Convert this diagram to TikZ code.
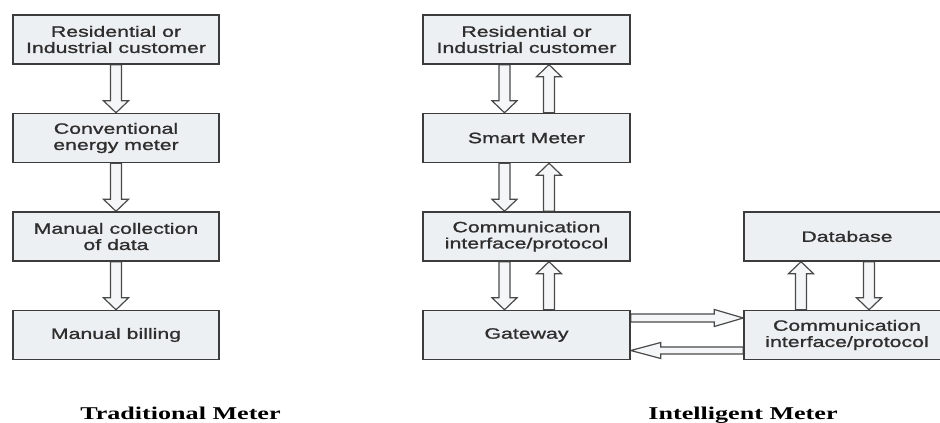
\documentclass[tikz,border=0pt]{standalone}
\usepackage{fontspec}
\newfontfamily\boxfont[FakeStretch=1.42,FakeBold=1.2]{Liberation Sans}
\newfontfamily\capfont[FakeStretch=1.45]{Liberation Serif}
\usetikzlibrary{calc,backgrounds}
\definecolor{boxfill}{HTML}{EDF0F2}
\definecolor{boxline}{HTML}{3C3C3C}
\definecolor{arrfill}{HTML}{F5F6F7}
\definecolor{arrline}{HTML}{4A4A4A}
\definecolor{textgray}{HTML}{2E2E2E}
\newcommand\arrdown[3]{\draw[blk] let \p1=($(#1.south)+(#3,0)$), \p2=(#2.north) in
  (\x1-5.5pt,\y1) -- (\x1-5.5pt,\y2+12pt) -- (\x1-12.5pt,\y2+12pt) -- (\x1,\y2) --
  (\x1+12.5pt,\y2+12pt) -- (\x1+5.5pt,\y2+12pt) -- (\x1+5.5pt,\y1) -- cycle;}
\newcommand\arrup[3]{\draw[blk] let \p1=($(#1.north)+(#3,0)$), \p2=(#2.south) in
  (\x1-5.5pt,\y1) -- (\x1-5.5pt,\y2-12pt) -- (\x1-12.5pt,\y2-12pt) -- (\x1,\y2) --
  (\x1+12.5pt,\y2-12pt) -- (\x1+5.5pt,\y2-12pt) -- (\x1+5.5pt,\y1) -- cycle;}
\newcommand\arrright[3]{\draw[blk] let \p1=($(#1.east)+(0,#3)$), \p2=(#2.west) in
  (\x1,\y1+4pt) -- (\x2-29pt,\y1+4pt) -- (\x2-29pt,\y1+8.5pt) -- (\x2,\y1) --
  (\x2-29pt,\y1-8.5pt) -- (\x2-29pt,\y1-4pt) -- (\x1,\y1-4pt) -- cycle;}
\newcommand\arrleft[3]{\draw[blk] let \p1=($(#1.west)+(0,#3)$), \p2=(#2.east) in
  (\x1,\y1+3.5pt) -- (\x2+30pt,\y1+3.5pt) -- (\x2+30pt,\y1+8pt) -- (\x2,\y1) --
  (\x2+30pt,\y1-8pt) -- (\x2+30pt,\y1-3.5pt) -- (\x1,\y1-3.5pt) -- cycle;}
\begin{document}
\begin{tikzpicture}[x=1pt,y=1pt,
  box/.style={draw=boxline, fill=boxfill, line width=1.4pt, minimum width=206pt,
    minimum height=49pt, inner sep=0pt, align=center, text=textgray,
    font=\boxfont\fontsize{15}{16.2}\selectfont},
  blk/.style={draw=arrline, fill=arrfill, line width=1.2pt, line join=miter},
  caption/.style={anchor=base, text=black, font=\capfont\bfseries\fontsize{18}{20}\selectfont}]
\useasboundingbox (0,0) rectangle (940,423);
\clip (0,0) rectangle (940,423);
% traditional meter
\node[box] (l1) at (116,383.5) {Residential or\\Industrial customer};
\node[box] (l2) at (116,285) {Conventional\\energy meter};
\node[box] (l3) at (116,186.5) {Manual collection\\of data};
\node[box] (l4) at (116,88) {Manual billing};
% intelligent meter
\node[box,minimum width=207pt] (r1) at (526.5,383.5) {Residential or\\Industrial customer};
\node[box,minimum width=207pt] (r2) at (526.5,285) {Smart Meter};
\node[box,minimum width=207pt] (r3) at (526.5,186.5) {Communication\\interface/protocol};
\node[box,minimum width=207pt] (r4) at (526.5,88) {Gateway};
\node[box] (db) at (847,186.5) {Database};
\node[box] (cr) at (847,88) {Communication\\interface/protocol};
% captions
\node[caption] (c1) at (180.5,3) {Traditional Meter};
\node[caption] (c2) at (743,3) {Intelligent Meter};
\begin{scope}[on background layer]
\fill[white] (0,0) rectangle (940,423);
\arrdown{l1}{l2}{0pt}
\arrdown{l2}{l3}{0pt}
\arrdown{l3}{l4}{0pt}
\arrdown{r1}{r2}{-22pt}
\arrup{r2}{r1}{22.5pt}
\arrdown{r2}{r3}{-22pt}
\arrup{r3}{r2}{22.5pt}
\arrdown{r3}{r4}{-22pt}
\arrup{r4}{r3}{22.5pt}
\arrup{cr}{db}{-46pt}
\arrdown{db}{cr}{22pt}
\arrright{r4}{cr}{17pt}
\arrleft{cr}{r4}{-15.5pt}
\end{scope}
\end{tikzpicture}
\end{document}
